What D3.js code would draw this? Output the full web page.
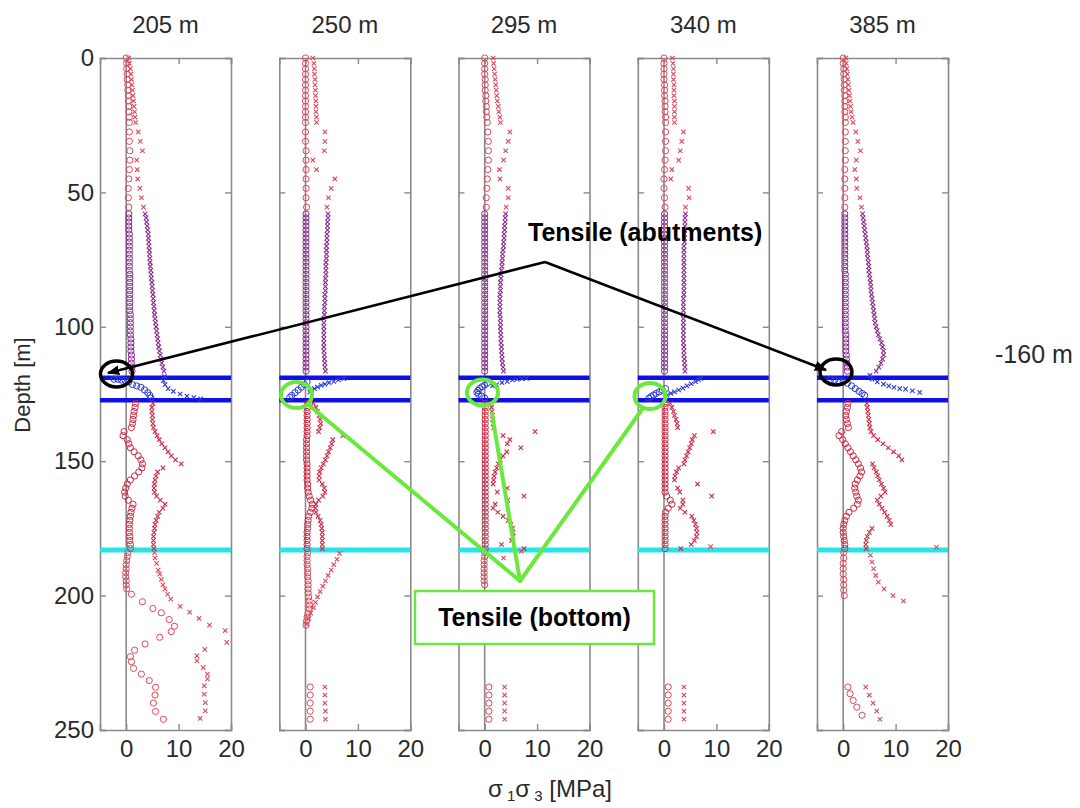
<!DOCTYPE html>
<html><head><meta charset="utf-8">
<script src="https://cdn.jsdelivr.net/npm/d3@7"></script>
<style>html,body{margin:0;padding:0;background:#fff;}svg{display:block;font-family:"Liberation Sans",Arial,sans-serif;}</style>
</head><body><svg id="c" width="1080" height="808"></svg>
<script>
// ---------- data ----------
const titles = ["205 m","250 m","295 m","340 m","385 m"];
const yTicks = [0,50,100,150,200,250];
const xTicks = [0,10,20];
const blueDepths = [119, 127.3];
const cyanDepth = 183;

const depthTop = [0,2,4,6,8,10,12,14,16,18,20,22,24,27.5,31,34.5,38,41.5,45,48.5,52,55.5];
const depthMid = [58,59.5,61,62.5,64,65.5,67,68.5,70,71.5,73,74.5,76,77.5,79,80.5,82,83.5,85,86.5,88,89.5,91,92.5,94,95.5,97,98.5,100,101.5,103,104.5,106,107.5,109,110.5,112,113.5,115,116.5];
const depthLow = [128.5,130,131.5,133,134.5,136,137.5,139,140.5,142,143.5,145,146.5,148,149.5,151,152.5,154,155.5,157,158.5,160,161.5,163,164.5,166,167.5,169,170.5,172,173.5,175,176.5,178,179.5,181,182.5];

// panel 205 m
const s3Top205 = [0,0.1,0.1,0.2,0.2,0.3,0.3,0.4,0.4,0.5,0.5,0.6,0.6,0.6,0.6,0.7,0.7,0.6,0.5,0.4,0.4,0.5];
const s1Top205 = [0.5,0.6,0.8,0.9,1.0,1.1,1.2,1.3,1.4,1.5,1.6,1.7,1.8,2.3,2.7,3.1,2.0,2.1,2.2,2.6,2.9,3.3];
const s3Mid205 = [0.5,0.5,0.5,0.5,0.5,0.6,0.6,0.6,0.6,0.6,0.6,0.6,0.6,0.6,0.6,0.7,0.7,0.7,0.7,0.7,0.7,0.7,0.7,0.7,0.7,0.8,0.8,0.8,0.8,0.8,0.8,0.9,0.9,0.9,0.9,1.0,1.0,1.0,1.1,1.1];
const s1Mid205 = [3.6,3.8,3.9,4.0,4.1,4.2,4.25,4.3,4.35,4.4,4.45,4.5,4.55,4.6,4.7,4.75,4.8,4.9,4.95,5.0,5.1,5.15,5.2,5.3,5.35,5.4,5.5,5.6,5.7,5.8,5.9,6.0,6.1,6.2,6.35,6.5,6.6,6.8,7.0,7.2];
const s3Band205 = [[119.5,-2.3],[119.5,-1.6],[119.8,-0.9],[120,-0.2],[120.5,0.5],[121.5,1.2],[122,2],[122.5,2.8],[123.5,3.5],[124.5,4.1],[125.5,4.5],[126.5,4.7]];
const s1Band205 = [[118.5,7.3],[120,7.1],[121.5,7.4],[123,8],[124,9],[125,10.3],[125.8,11.6],[126.3,12.9],[126.8,14.2]];
const s3Low205 = [1.8,1.7,1.5,1.4,1.3,1.2,1.0,-0.4,-0.6,0.2,0.5,0.8,1.5,2.3,2.8,3.1,3.0,2.4,1.6,0.8,0.2,-0.1,-0.3,-0.2,0.4,1.3,1.1,0.9,0.8,0.7,0.6,0.6,0.6,0.7,0.7,0.8,0.8];
const s1Low205 = [5.1,4.9,4.9,5.0,5.0,5.1,5.2,5.5,5.9,6.3,6.8,7.4,8.0,8.6,9.4,10.5,7.0,6.0,5.7,5.5,5.4,5.3,5.4,5.8,6.5,7.4,7.0,6.3,6.0,5.7,5.5,5.4,5.3,5.2,5.2,5.2,5.3];
const s3Deep205 = [[184,0.3],[185.5,0.2],[187,0.1],[188.5,0],[190,0],[191.5,-0.1],[193,-0.1],[194.5,0],[196,0],[197.5,0.1],[199.5,1],[202.3,3.1],[204.8,5.1],[206.4,6.7],[208.9,8.2],[211.4,9.2],[213.4,8.6],[215.5,6.4],[218,3.6],[220.3,1.6],[222.7,0.8],[224.6,1.0],[227.1,1.4],[229.2,2.9],[231.6,4.4],[234.1,5.6],[237,5.5],[240,5.2],[243.1,5.6],[246,7.1]];
const s1Deep205 = [[184,5.4],[186,5.5],[188,5.8],[190.5,6.1],[192,6.4],[194,6.7],[196,7.0],[197.6,7.4],[199.5,7.9],[201.3,8.5],[204,10.3],[206.2,12.1],[208.5,13.9],[211,15.9],[213,18.9],[217.4,19.2],[220,15],[222.4,13.5],[224.3,13.5],[226.8,14.7],[229.2,15.5],[231,15.5],[233.6,14.9],[236.7,14.9],[239.8,15.1],[242.9,15.1],[245.7,14.1]];

// panel 250 m
const s3Top250 = [0,0,0,0,0,0,0,0,0,0,0,0,0,0,0,0.1,0.1,0.1,0.1,0.1,0.1,0.2];
const s1Top250 = [1.4,1.6,1.7,1.7,1.8,1.8,1.9,1.9,2.0,2.0,2.0,2.1,2.1,3.7,3.7,3.6,1.4,2.1,5.6,4.9,4.4,4.1];
const s3Mid250 = [0.1,0.1,0.1,0.1,0.1,0.1,0.1,0.1,0.1,0.1,0.1,0.1,0.1,0.1,0.1,0.1,0.1,0.1,0.1,0.1,0.1,0.1,0.1,0.1,0.1,0.1,0.1,0.1,0.1,0.1,0.1,0.1,0.1,0.1,0.1,0.1,0.1,0.1,0.1,0.1];
const s1Mid250 = [4.3,4.3,4.2,4.2,4.2,4.1,4.1,4.1,4.0,4.0,4.0,4.0,3.9,3.9,3.9,3.9,3.8,3.8,3.8,3.8,3.7,3.7,3.7,3.6,3.6,3.6,3.5,3.5,3.5,3.5,3.5,3.5,3.5,3.5,3.5,3.6,3.6,3.7,3.7,3.8];
const s3Band250 = [[120.5,0.3],[121.5,-0.2],[122.5,-0.8],[123.5,-1.4],[124.5,-2.0],[125.5,-2.6],[126.3,-3.0]];
const s1Band250 = [[119.3,7.3],[119.8,6.3],[120.3,5.4],[120.8,4.5],[121.3,3.7],[121.8,3.0],[122.4,2.3],[123,1.7],[123.6,1.2],[124.3,0.8]];
const s3Low250 = [0.4,0.4,0.3,0.3,0.3,0.3,0.3,0.3,0.3,0.2,0.2,0.2,0.2,0.2,0.2,0.3,0.3,0.3,0.3,0.3,0.4,0.4,0.5,0.7,1.0,1.3,1.2,0.9,0.6,0.5,0.4,0.4,0.3,0.3,0.3,0.3,0.3];
const s1Low250 = [1.5,2.0,2.3,2.6,2.8,2.9,2.7,2.5,7.1,5.2,5.0,4.7,4.4,4.1,3.8,3.4,3.0,2.7,2.6,2.6,3.2,3.6,3.7,3.3,2.5,2.0,1.9,2.0,2.4,2.8,3.0,3.1,3.2,3.2,3.2,3.2,3.2];
const s3Deep250 = [[184,0.4],[185.5,0.3],[187,0.3],[188.5,0.3],[190,0.4],[191.5,0.4],[193,0.4],[194.5,0.5],[196,0.5],[197.5,0.5],[199,0.5],[200.5,0.6],[202,0.7],[203.5,0.8],[205,0.7],[206.5,0.5],[208,0.3],[209.5,0.2],[211,0.1],[234,0.9],[237,0.9],[240,0.9],[243,0.9],[246,0.9]];
const s1Deep250 = [[184.3,6.5],[186.5,6.0],[188.5,5.4],[190.5,4.9],[192.5,4.3],[194.5,3.8],[196.5,3.3],[198.5,2.8],[200.5,2.3],[202.5,1.9],[204.5,1.5],[206.5,1.0],[208.5,0.6],[210.5,0.2],[234,3.7],[237,3.7],[240,3.7],[243,3.8],[246,3.8]];

// panel 295 m
const s3Top295 = [0,0,0,0,0.1,0.1,0.1,0.2,0.2,0.3,0.3,0.4,0.5,0.6,0.7,0.7,0.7,0.6,0.5,0.4,0.3,0.3];
const s1Top295 = [1.6,1.7,1.8,1.9,2.0,2.1,2.2,2.3,2.4,2.6,2.7,2.9,3.0,4.8,4.5,4.0,3.6,2.8,2.9,4.5,4.5,4.1];
const s3Mid295 = [0,0,0,0,0,0,0,0,0,0,0,0,0,0,0,0,0,0,0,0,0,0,0,0,0,0,0,0,0,0,0,0,0,0,0,0,0,0,0,0];
const s1Mid295 = [4.0,3.9,3.9,3.8,3.8,3.7,3.7,3.6,3.6,3.5,3.4,3.4,3.3,3.3,3.2,3.1,3.1,3.0,3.0,3.0,2.9,2.9,2.9,2.9,2.9,2.9,3.0,3.0,3.0,3.0,3.1,3.1,3.1,3.2,3.2,3.3,3.3,3.4,3.5,3.6];
const s3Band295 = [[121,0.5],[121.7,0],[122.3,-0.5],[123,-1.0],[123.7,-1.3],[124.4,-1.5],[125.1,-1.2],[125.8,-0.6],[126.5,0]];
const s1Band295 = [[122,1.5],[121.5,2.3],[120.8,3.3],[120.3,4.3],[119.8,5.3],[119.5,6.2],[119.3,7.1],[119.2,8.0]];
const s3Low295 = [0.1,0.1,0.1,0.1,0.1,0.1,0.1,0.1,0.1,0.1,0.1,0.1,0.1,0.1,0.1,0.1,0.1,0.1,0.1,0.1,0.1,0.1,0.1,0.1,0.1,0.1,0.1,0.1,0.1,0.1,0.1,0.1,0.1,0.1,0.1,0.1,0.1];
const s1Low295 = [1.0,1.3,1.4,1.5,1.5,1.6,1.7,9.6,3.5,4.8,4.3,6.9,4.2,3.5,3.0,2.6,2.3,2.0,1.8,1.7,1.6,4.3,2.4,7.5,4.4,2.0,1.6,2.5,3.5,4.5,5.0,5.3,5.4,5.4,5.1,3.2,7.5];
const s3Deep295 = [[184,0],[185.5,0],[187,-0.1],[188.5,-0.1],[190,-0.1],[191.5,-0.1],[193,-0.1],[194.5,-0.1],[196,0],[234,0.8],[237,0.8],[240,0.8],[243,0.8],[246,0.8]];
const s1Deep295 = [[183.5,7.0],[186,3.6],[234,3.8],[237,3.8],[240,3.8],[243,3.8],[246,3.8]];

// panel 340 m
const s3Top340 = [0,0,0,0,0,0.1,0.1,0.1,0.2,0.2,0.2,0.3,0.3,0.3,0.3,0.3,0.2,0.1,0,0,0.1,0.2];
const s1Top340 = [1.6,1.7,1.8,1.8,1.8,1.9,1.9,1.9,2.0,2.0,2.0,2.0,2.0,3.7,3.4,3.1,2.8,1.5,1.3,4.7,4.8,4.1];
const s3Mid340 = [0.1,0.1,0.1,0.1,0.1,0.1,0.1,0.1,0.1,0.1,0.1,0.1,0.1,0.1,0.1,0.1,0.1,0.1,0.1,0.1,0.1,0.1,0.1,0.1,0.1,0.1,0.1,0.1,0.1,0.1,0.1,0.1,0.1,0.1,0.1,0.1,0.1,0.1,0.1,0.1];
const s1Mid340 = [4.1,4.0,4.0,4.0,3.9,3.9,3.9,3.9,3.8,3.8,3.8,3.8,3.8,3.8,3.8,3.8,3.8,3.8,3.8,3.8,3.8,3.7,3.7,3.7,3.7,3.7,3.7,3.7,3.7,3.7,3.7,3.7,3.7,3.8,3.8,3.8,3.9,3.9,4.0,4.0];
const s3Band340 = [[123,0.3],[123.6,-0.3],[124.2,-0.9],[124.8,-1.5],[125.4,-2.0],[126,-2.5],[126.6,-2.9]];
const s1Band340 = [[125.4,0.6],[124.8,1.3],[124.2,2.0],[123.5,2.8],[122.8,3.6],[122,4.4],[121.2,5.2],[120.4,6.0],[119.7,6.6],[119.2,7.0]];
const s3Low340 = [0.2,0.2,0.2,0.2,0.2,0.2,0.2,0.2,0.2,0.2,0.2,0.2,0.2,0.2,0.2,0.2,0.2,0.2,0.2,0.2,0.2,0.2,0.2,0.5,1.2,1.5,0.8,0.3,0.2,0.2,0.2,0.2,0.2,0.2,0.2,0.2,0.2];
const s1Low340 = [1.2,1.5,1.8,2.0,2.3,2.5,2.6,9.4,5.8,5.4,5.2,4.9,4.6,4.3,4.0,3.8,2.8,2.4,2.1,2.0,6.4,2.6,3.0,9.1,3.6,3.6,3.1,4.0,5.3,5.7,6.0,6.2,6.3,6.2,5.8,5.2,3.2];
const s3Deep340 = [[234,0.8],[237,0.8],[240,0.8],[243,0.8],[246,0.8]];
const s1Deep340 = [[181.8,8.9],[234,3.8],[237,3.8],[240,3.8],[243,3.8],[246,3.8]];

// panel 385 m
const s3Top385 = [0,0,0.1,0.1,0.2,0.2,0.2,0.3,0.3,0.3,0.3,0.4,0.4,0.4,0.4,0.4,0.4,0.3,0.3,0.3,0.3,0.3];
const s1Top385 = [0.5,0.6,0.7,0.8,0.9,1.0,1.1,1.2,1.3,1.4,1.5,1.7,1.9,2.4,2.8,3.3,2.5,2.2,2.5,2.6,3.2,3.5];
const s3Mid385 = [0.3,0.3,0.3,0.3,0.3,0.3,0.3,0.3,0.3,0.3,0.3,0.3,0.3,0.3,0.3,0.4,0.4,0.4,0.4,0.4,0.4,0.4,0.4,0.4,0.4,0.4,0.4,0.4,0.4,0.4,0.5,0.5,0.5,0.5,0.5,0.6,0.6,0.7,0.8,0.8];
const s1Mid385 = [3.7,3.8,3.9,4.0,4.1,4.2,4.3,4.4,4.5,4.6,4.6,4.7,4.8,4.9,4.9,5.0,5.1,5.2,5.3,5.3,5.4,5.5,5.6,5.7,5.8,5.9,6.0,6.1,6.3,6.5,6.7,7.0,7.3,7.5,7.7,7.7,7.5,7.2,6.8,6.3];
const s3Band385 = [[119.5,-2.4],[119.8,-1.6],[120.1,-0.8],[120.4,0],[121,0.8],[122,1.6],[123,2.3],[124,3.0],[124.8,3.6],[125.5,4.1]];
const s1Band385 = [[118.1,5.1],[119.5,5.5],[120.5,6.5],[121.3,7.7],[122,8.7],[122.5,9.7],[123,10.8],[123.2,11.9],[123.8,13.2],[124.4,14.6]];
const s3Low385 = [0.9,0.8,0.6,0.5,0.6,0.8,1.0,-0.3,-0.8,-0.1,0.4,0.9,1.4,1.9,2.4,2.9,3.3,3.5,3.2,2.7,2.3,2.2,2.4,2.6,2.9,2.7,2.0,1.1,0.6,0.3,0.1,0,0,0.1,0.2,0.3,0.3];
const s1Low385 = [4.5,4.6,4.7,4.8,4.9,5.0,5.1,5.3,5.8,6.6,7.6,8.6,9.6,10.6,11.2,5.6,5.9,6.3,6.6,6.9,7.3,7.7,8.0,7.2,6.5,6.9,7.4,7.9,8.4,8.8,9.1,5.5,5.0,4.6,4.4,4.3,4.4];
const s3Deep385 = [[184,0.1],[186,0.1],[188,0],[190,0],[192,0],[194,0.1],[196,0.1],[198,0.1],[200,0.2],[234,0.9],[236.5,1.3],[239,1.9],[241.5,2.6],[244.5,3.6]];
const s1Deep385 = [[182,17.8],[185,5.2],[187.5,5.5],[190,5.8],[192.5,6.2],[195,6.7],[197.5,7.8],[200,9.5],[202,11.5],[234,4.3],[237,5.0],[240,5.7],[243,6.4],[246,7.0]];

// ---------- drawing ----------
const panelData = [
  {t:titles[0], top:[s3Top205,s1Top205], mid:[s3Mid205,s1Mid205], band:[s3Band205,s1Band205], low:[s3Low205,s1Low205], deep:[s3Deep205,s1Deep205]},
  {t:titles[1], top:[s3Top250,s1Top250], mid:[s3Mid250,s1Mid250], band:[s3Band250,s1Band250], low:[s3Low250,s1Low250], deep:[s3Deep250,s1Deep250]},
  {t:titles[2], top:[s3Top295,s1Top295], mid:[s3Mid295,s1Mid295], band:[s3Band295,s1Band295], low:[s3Low295,s1Low295], deep:[s3Deep295,s1Deep295]},
  {t:titles[3], top:[s3Top340,s1Top340], mid:[s3Mid340,s1Mid340], band:[s3Band340,s1Band340], low:[s3Low340,s1Low340], deep:[s3Deep340,s1Deep340]},
  {t:titles[4], top:[s3Top385,s1Top385], mid:[s3Mid385,s1Mid385], band:[s3Band385,s1Band385], low:[s3Low385,s1Low385], deep:[s3Deep385,s1Deep385]}
];
const colTop = "#e2445a", colMid = "#8a2a90", colBand = "#2a3ad8", colLow = "#cc2a46", colDeep = "#e0485a";

const svg = d3.select("#c");
const panelLeft = [100, 279.3, 458.5, 637.8, 817];
const pw = 131, yTop = 58, yBot = 730;
const y = d3.scaleLinear().domain([0,250]).range([yTop,yBot]);
const axisCol = "#8a8a8a";
const txtCol = "#2a2a2a";

panelData.forEach((p,i)=>{
  const x = d3.scaleLinear().domain([-5,20]).range([panelLeft[i], panelLeft[i]+pw]);
  const g = svg.append("g");
  g.append("text").attr("x", panelLeft[i]+pw/2).attr("y", 33).attr("text-anchor","middle")
    .attr("font-size", 24).attr("fill",txtCol).text(p.t);
  g.append("line").attr("x1",x(0)).attr("x2",x(0)).attr("y1",yTop).attr("y2",yBot)
    .attr("stroke",axisCol).attr("stroke-width",1.6);
  const axG = g.append("g").attr("transform",`translate(0,${yBot})`).call(d3.axisBottom(x).tickValues(xTicks).tickSize(-6).tickPadding(10).tickFormat(d3.format("d")));
  const axT = g.append("g").attr("transform",`translate(0,${yTop})`).call(d3.axisTop(x).tickValues(xTicks).tickSize(-6).tickFormat(""));
  const ayL = g.append("g").attr("transform",`translate(${panelLeft[i]},0)`).call(d3.axisLeft(y).tickValues(yTicks).tickSize(-6).tickPadding(6).tickFormat(i===0?d3.format("d"):""));
  const ayR = g.append("g").attr("transform",`translate(${panelLeft[i]+pw},0)`).call(d3.axisRight(y).tickValues(yTicks).tickSize(-6).tickFormat(""));
  [axG,axT,ayL,ayR].forEach(a=>{
    a.select(".domain").attr("stroke",axisCol).attr("stroke-width",1.6);
    a.selectAll(".tick line").attr("stroke",axisCol).attr("stroke-width",1.4);
    a.selectAll("text").attr("font-size",24).attr("fill",txtCol).attr("font-family",'"Liberation Sans",Arial,sans-serif');
  });
  blueDepths.forEach(d=>g.append("line").attr("x1",panelLeft[i]).attr("x2",panelLeft[i]+pw).attr("y1",y(d)).attr("y2",y(d))
    .attr("stroke","#1010e6").attr("stroke-width",4.5));
  g.append("line").attr("x1",panelLeft[i]).attr("x2",panelLeft[i]+pw).attr("y1",y(cyanDepth)).attr("y2",y(cyanDepth))
    .attr("stroke","#28e4e6").attr("stroke-width",5);

  const mk = g.append("g");
  function circles(pts,col){
    mk.append("g").selectAll("circle").data(pts).join("circle")
      .attr("cx",d=>x(d[1])).attr("cy",d=>y(d[0])).attr("r",3.1)
      .attr("fill","none").attr("stroke",col).attr("stroke-width",1);
  }
  function crosses(pts,col){
    mk.append("g").selectAll("path").data(pts).join("path")
      .attr("d",d=>{const cx=x(d[1]),cy=y(d[0]),s=2.2;return `M${cx-s},${cy-s}L${cx+s},${cy+s}M${cx-s},${cy+s}L${cx+s},${cy-s}`;})
      .attr("fill","none").attr("stroke",col).attr("stroke-width",1.1);
  }
  const zip=(ds,vs)=>ds.map((d,k)=>[d,vs[k]]);
  circles(zip(depthTop,p.top[0]),colTop); crosses(zip(depthTop,p.top[1]),colTop);
  circles(zip(depthMid,p.mid[0]),colMid); crosses(zip(depthMid,p.mid[1]),colMid);
  circles(zip(depthLow,p.low[0]),colLow); crosses(zip(depthLow,p.low[1]),colLow);
  circles(p.deep[0],colDeep); crosses(p.deep[1],colDeep);
  circles(p.band[0],colBand); crosses(p.band[1],colBand);
});

svg.append("text").attr("transform","translate(30,385) rotate(-90)").attr("text-anchor","middle")
  .attr("font-size",22).attr("fill",txtCol).text("Depth [m]");
const xl = svg.append("text").attr("x",550).attr("y",797).attr("text-anchor","middle").attr("font-size",24).attr("fill",txtCol);
xl.append("tspan").text("σ");
xl.append("tspan").attr("font-size",15).attr("dy",4).text(" 1");
xl.append("tspan").attr("dy",-4).text("σ");
xl.append("tspan").attr("font-size",15).attr("dy",4).text(" 3");
xl.append("tspan").attr("dy",-4).text(" [MPa]");

svg.append("text").attr("x",995).attr("y",363).attr("font-size",25).attr("fill",txtCol).text("-160 m");

const defs = svg.append("defs");
defs.append("marker").attr("id","ah").attr("viewBox","0 0 10 10").attr("refX",9).attr("refY",5)
  .attr("markerWidth",5).attr("markerHeight",5).attr("orient","auto")
  .append("path").attr("d","M0,1L10,5L0,9z").attr("fill","#000");
svg.append("line").attr("x1",545).attr("y1",262).attr("x2",108).attr("y2",373)
  .attr("stroke","#000").attr("stroke-width",2.5).attr("marker-end","url(#ah)");
svg.append("line").attr("x1",545).attr("y1",262).attr("x2",826).attr("y2",370)
  .attr("stroke","#000").attr("stroke-width",2.5).attr("marker-end","url(#ah)");
svg.append("text").attr("x",528).attr("y",241).attr("font-size",25).attr("font-weight","bold").attr("fill","#000")
  .text("Tensile (abutments)");

svg.append("ellipse").attr("cx",116.5).attr("cy",374).attr("rx",16).attr("ry",13).attr("fill","none").attr("stroke","#000").attr("stroke-width",3.5);
svg.append("ellipse").attr("cx",836).attr("cy",372).attr("rx",16).attr("ry",13).attr("fill","none").attr("stroke","#000").attr("stroke-width",3.5);

const green = "#6ae83c";
[[296.5,395],[482.5,392.5],[650,396]].forEach(c=>
  svg.append("ellipse").attr("cx",c[0]).attr("cy",c[1]).attr("rx",15.5).attr("ry",13).attr("fill","none").attr("stroke",green).attr("stroke-width",4));
[[310,406],[492,414],[643,408]].forEach(s=>
  svg.append("line").attr("x1",s[0]).attr("y1",s[1]).attr("x2",520).attr("y2",581).attr("stroke",green).attr("stroke-width",4).attr("stroke-linecap","round"));
svg.append("rect").attr("x",415).attr("y",591).attr("width",239).attr("height",53).attr("fill","#fff").attr("stroke",green).attr("stroke-width",2.5);
svg.append("text").attr("x",534.5).attr("y",626).attr("text-anchor","middle").attr("font-size",25).attr("font-weight","bold").attr("fill","#000").text("Tensile (bottom)");
</script></body></html>
